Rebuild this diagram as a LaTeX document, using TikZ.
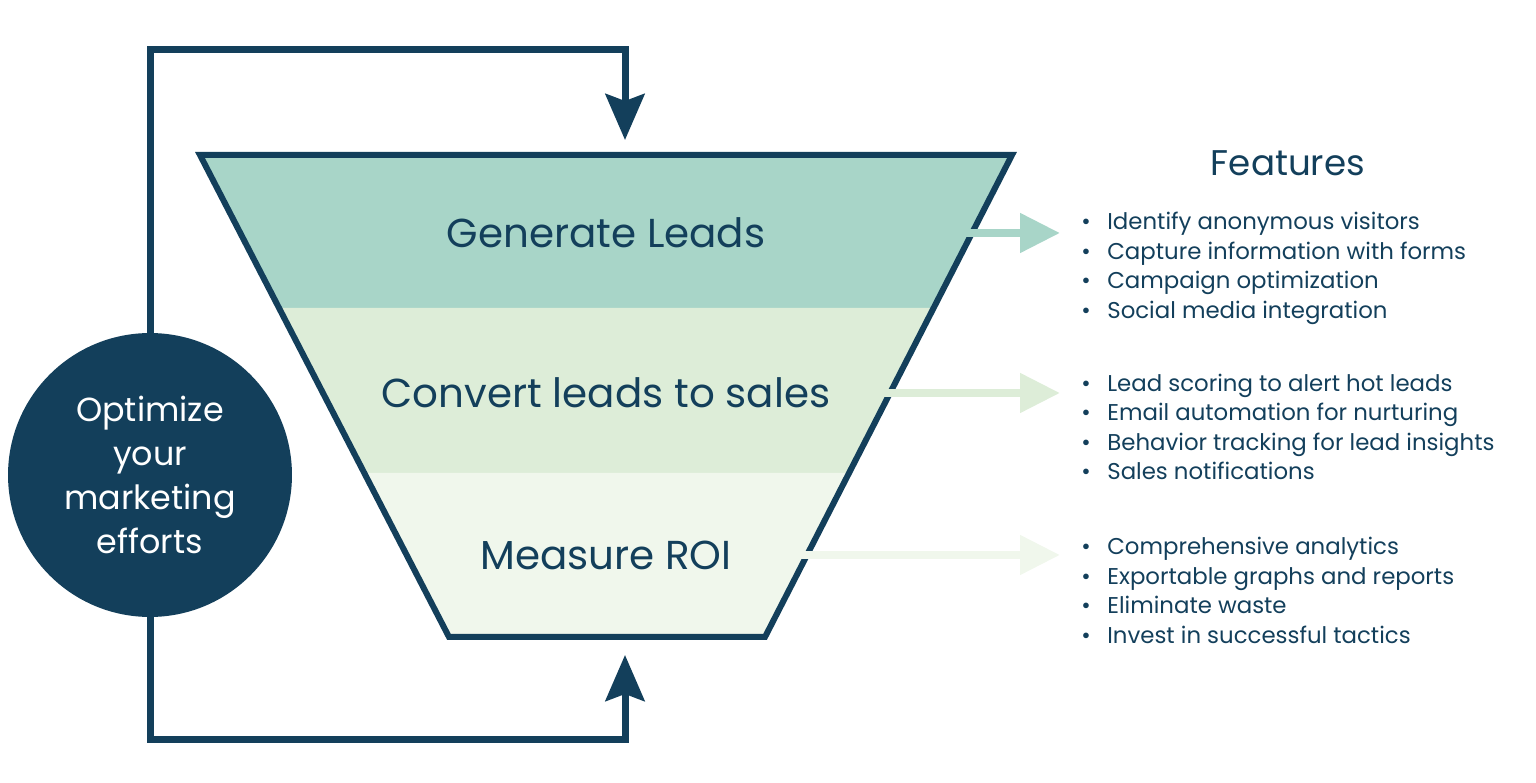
\documentclass[tikz,border=0pt]{standalone}
\usepackage{fontspec}
\setmainfont{Poppins}
\usetikzlibrary{arrows.meta,positioning,calc}
\definecolor{navy}{RGB}{19,63,91}
\definecolor{bandtop}{RGB}{168,213,200}
\definecolor{bandmid}{RGB}{221,237,216}
\definecolor{bandlow}{RGB}{240,247,236}

\tikzset{
  loopline/.style={draw=navy, line width=0.14cm, -{Stealth[length=0.92cm,width=0.78cm,inset=0.14cm]}},
  sidearrow/.style={draw=#1, line width=0.16cm, -{Triangle[length=0.8cm,width=0.76cm]}},
  bandlabel/.style={font=\fontsize{23}{26}\selectfont, text=navy},
  featlist/.style={anchor=west, align=left, inner sep=0pt, font=\fontsize{13}{16.8}\selectfont, text=navy},
}
\newcommand{\feat}[1]{\makebox[0.52cm][l]{\textbullet}#1}

\begin{document}
\begin{tikzpicture}[x=0.02cm, y=-0.02cm]
  \path[use as bounding box] (0,0) rectangle (1536,783);

  % funnel bands
  \fill[bandtop] (200,155) -- (1012,155) -- (933.6,308) -- (279,308) -- cycle;
  \fill[bandmid] (279,308) -- (933.6,308) -- (849,473) -- (364.3,473) -- cycle;
  \fill[bandlow] (364.3,473) -- (849,473) -- (765,637) -- (449,637) -- cycle;
  \draw[navy, line width=0.12cm, line join=miter] (200,155) -- (1012,155) -- (765,637) -- (449,637) -- cycle;

  \node[bandlabel] (gen) at (606,233) {Generate Leads};
  \node[bandlabel] (conv) at (606,393) {Convert leads to sales};
  \node[bandlabel] (roi) at (606,555) {Measure ROI};

  % loop round the funnel
  \node[circle, fill=navy, minimum size=5.68cm, inner sep=0pt, align=center, text=white,
        font=\fontsize{19}{25}\selectfont] (opt) at (150,475) {Optimize\\your\\marketing\\efforts};
  \coordinate (topin) at (625,140);
  \coordinate (botin) at (625,655);
  \draw[loopline] (opt.north) -- (opt.north |- 0,50) -| (topin);
  \draw[loopline] (opt.south) -- (opt.south |- 0,740) -| (botin);

  % features
  \node[text=navy, font=\fontsize{20.3}{23}\selectfont] (feat) at (1288,163) {Features};
  \node[featlist] (l1) at (1081,268.5) {\feat{Identify anonymous visitors}\\\feat{Capture information with forms}\\\feat{Campaign optimization}\\\feat{Social media integration}};
  \node[featlist] (l2) at (1081,427) {\feat{Lead scoring to alert hot leads}\\\feat{Email automation for nurturing}\\\feat{Behavior tracking for lead insights}\\\feat{Sales notifications}};
  \node[featlist] (l3) at (1081,590.5) {\feat{Comprehensive analytics}\\\feat{Exportable graphs and reports}\\\feat{Eliminate waste}\\\feat{Invest in successful tactics}};

  \coordinate (e1) at (966,233);
  \coordinate (e2) at (884,393);
  \coordinate (e3) at (801,555);
  \draw[sidearrow=bandtop] (e1) -- (e1 -| 1060,0);
  \draw[sidearrow=bandmid] (e2) -- (e2 -| 1060,0);
  \draw[sidearrow=bandlow] (e3) -- (e3 -| 1060,0);
\end{tikzpicture}
\end{document}
